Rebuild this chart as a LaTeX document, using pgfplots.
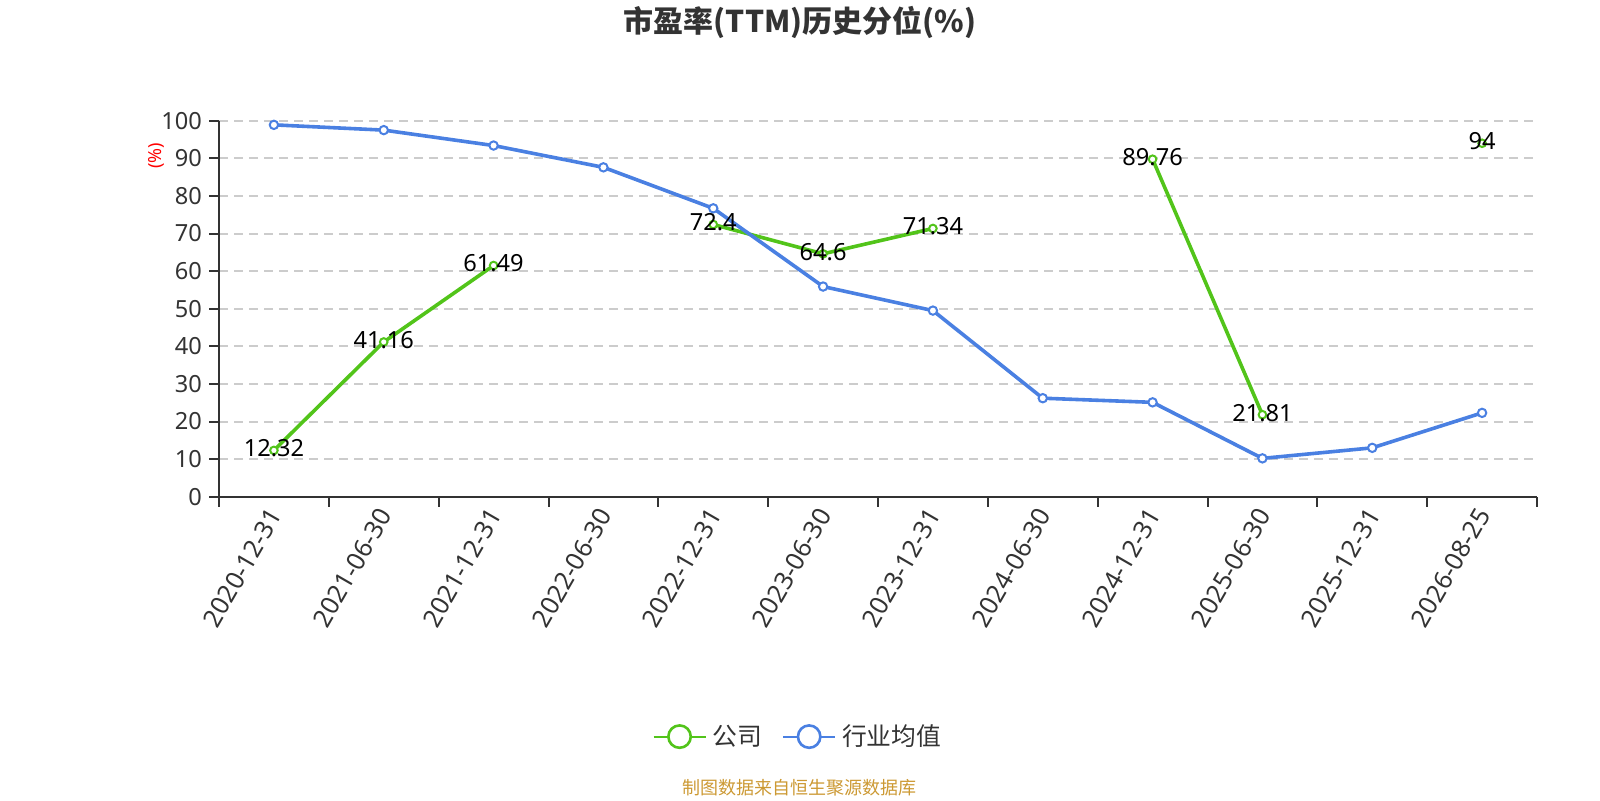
\documentclass[border=0pt]{standalone}
\usepackage{pgfplots}
\pgfplotsset{compat=1.18}
\usepackage{pgfplotstable}
\usepackage{fontspec}
\setmainfont{Noto Sans}
\newfontfamily\cjk{Noto Sans CJK SC}
\definecolor{cgreen}{RGB}{82,196,26}
\definecolor{cblue}{RGB}{74,128,226}
\definecolor{ctext}{RGB}{51,51,51}
\definecolor{cgrid}{RGB}{204,204,204}
\definecolor{csrc}{RGB}{204,153,51}

\pgfplotstableread{
x y label
0 12.32 12.32
1 41.16 41.16
2 61.49 61.49
3 nan {}
4 72.4 72.4
5 64.6 64.6
6 71.34 71.34
7 nan {}
8 89.76 89.76
9 21.81 21.81
10 nan {}
11 94 94
}\company

\pgfplotstableread{
x y
0 98.9
1 97.5
2 93.4
3 87.6
4 76.7
5 55.9
6 49.5
7 26.2
8 25.1
9 10.2
10 13.0
11 22.3
}\industry

\begin{document}
\begin{tikzpicture}
\path[use as bounding box] (0,0) rectangle (800pt,-400pt);
\begin{axis}[
  at={(109.5pt,-248.35pt)}, anchor=south west,
  scale only axis, width=659pt, height=188pt,
  xmin=-0.5, xmax=11.5, ymin=0, ymax=100,
  axis x line*=bottom, axis y line*=left,
  axis line style={draw=ctext, line width=1pt},
  xtick={0,...,11},
  xticklabels={2020-12-31,2021-06-30,2021-12-31,2022-06-30,2022-12-31,2023-06-30,2023-12-31,2024-06-30,2024-12-31,2025-06-30,2025-12-31,2026-08-25},
  minor xtick={-0.5,0.5,...,11.5},
  ytick={0,10,...,100},
  tick align=outside,
  major tick length=5pt, minor tick length=5pt,
  major x tick style={draw=none},
  minor x tick style={draw=ctext, line width=1pt},
  major y tick style={draw=ctext, line width=1pt},
  ymajorgrids,
  major grid style={draw=cgrid, line width=1pt, dash pattern=on 4.5pt off 3pt},
  tick label style={font=\fontsize{11.8pt}{13pt}\selectfont, text=ctext},
  /pgf/number format/assume math mode=true,
  xticklabel style={font=\fontsize{12.6pt}{14pt}\selectfont, xshift=2.5pt, yshift=1pt, rotate=60, anchor=east},
  clip=false,
  unbounded coords=jump,
  legend style={at={(0.4408,-0.638)}, anchor=center, draw=none, fill=none,
    legend columns=2, font=\cjk\fontsize{12.4pt}{14pt}\selectfont, text=ctext,
    /tikz/every even column/.append style={column sep=7pt},
    nodes={inner sep=3pt}},
  legend image code/.code={\draw[line width=1pt] (0pt,0pt) -- (26pt,0pt);
    \draw[line width=1.3pt, fill=white] (13pt,0pt) circle (5.6pt);},
]
\addplot[color=cgreen, line width=1.8pt, mark=*, mark size=1.9pt,
  mark options={fill=white, draw=cgreen, line width=1pt, solid}]
  table[x=x, y=y] {\company};
\addlegendentry{公司}
\addplot[color=cblue, line width=1.8pt, mark=*, mark size=2.1pt,
  mark options={fill=white, draw=cblue, line width=1pt, solid}]
  table[x=x, y=y] {\industry};
\addlegendentry{行业均值}
\addplot[draw=none, mark=none, forget plot, unbounded coords=discard,
  nodes near coords, point meta=explicit symbolic,
  every node near coord/.append style={anchor=center, yshift=1pt,
    font=\fontsize{11.8pt}{13pt}\selectfont, text=black}]
  table[x=x, y=y, meta=label] {\company};

\node[font=\cjk\bfseries\fontsize{15pt}{18pt}\selectfont, text=ctext]
  at (rel axis cs:0.4408,1.26) {市盈率(TTM)历史分位(\%)};
\node[rotate=90, text=red, font=\fontsize{9pt}{10pt}\selectfont]
  at (rel axis cs:-0.0474,0.907) {(\%)};
\node[text=csrc, font=\cjk\fontsize{9pt}{10pt}\selectfont]
  at (rel axis cs:0.4408,-0.7747) {制图数据来自恒生聚源数据库};
\end{axis}
\end{tikzpicture}
\end{document}
